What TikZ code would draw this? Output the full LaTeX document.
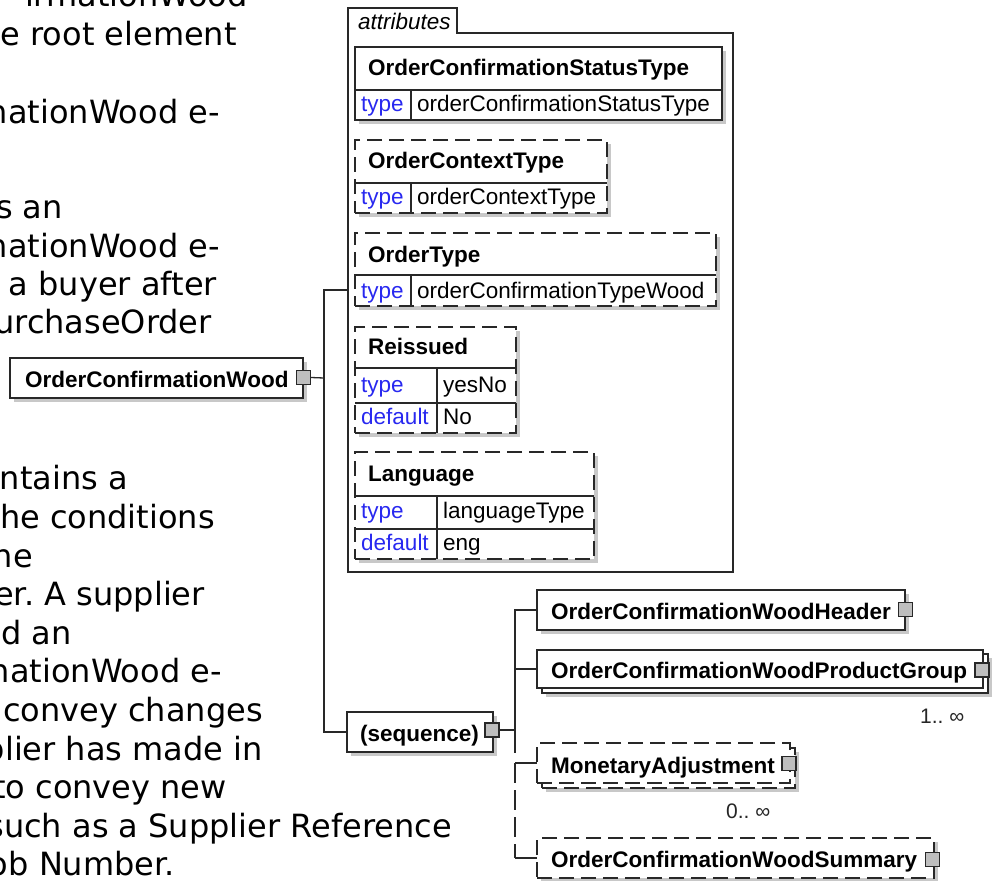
\documentclass[tikz,border=0pt]{standalone}
\usepackage{fontspec}
\setmainfont{Liberation Sans}
\newfontfamily\leftfont{DejaVu Sans}
\frenchspacing
\definecolor{lblue}{RGB}{40,40,240}
\definecolor{shd}{RGB}{200,200,200}
\definecolor{sqfill}{RGB}{190,190,190}
\definecolor{edge}{RGB}{40,40,40}
\tikzset{
  ebox/.style={draw=edge, fill=white, line width=1.3pt, inner sep=0pt, outer sep=0pt, anchor=north west},
  dbox/.style={ebox, dash pattern=on 15pt off 7pt},
  divline/.style={draw=edge, line width=1.1pt},
  conn/.style={draw=edge, line width=1.3pt},
  dconn/.style={conn, dash pattern=on 20pt off 7pt},
  sqn/.style={draw=edge, fill=sqfill, line width=1.1pt, minimum size=14pt, inner sep=0pt},
  ttl/.style={font=\fontsize{22.5}{27}\selectfont\bfseries, anchor=base west, inner sep=0pt},
  lbl/.style={font=\fontsize{22.5}{27}\selectfont, text=lblue, anchor=base west, inner sep=0pt},
  val/.style={font=\fontsize{22.5}{27}\selectfont, anchor=base west, inner sep=0pt},
  ital/.style={font=\fontsize{22.5}{27}\selectfont\itshape, anchor=base west, inner sep=0pt},
  mult/.style={font=\fontsize{21}{25}\selectfont, text=black!85, anchor=base west, inner sep=0pt},
  ltxt/.style={font=\leftfont\fontsize{32}{38}\selectfont, anchor=base east, inner sep=0pt},
}
\newcommand\shbox[6]{%
  \fill[shd] (#2+4,#3+4) rectangle (#4+4,#5+4);
  \node[#6, minimum width={#4-#2}, minimum height={#5-#3}] (#1) at (#2,#3) {};}
\begin{document}
\begin{tikzpicture}[x=1pt,y=-1pt]
\useasboundingbox (0,0) rectangle (992,880);
\clip (0,0) rectangle (992,880);
\fill[white] (0,0) rectangle (992,880);

% left annotation text (partly hidden)
\node[ltxt] (l1) at (248,7) {irmationWood};
\node[ltxt] (l2) at (237,46) {e root element};
\node[ltxt] (l3) at (220,123) {nationWood e-};
\node[ltxt] (l4) at (63,218) {s an};
\node[ltxt] (l5) at (220,257) {nationWood e-};
\node[ltxt] (l6) at (217,295) {a buyer after};
\node[ltxt] (l7) at (212,333) {urchaseOrder};
\node[ltxt] (l8) at (128,489) {ntains a};
\node[ltxt] (l9) at (215,528) {he conditions};
\node[ltxt] (l10) at (33,567) {he};
\node[ltxt] (l11) at (205,605) {er. A supplier};
\node[ltxt] (l12) at (72,644) {d an};
\node[ltxt] (l13) at (222,682) {nationWood e-};
\node[ltxt] (l14) at (263,721) {convey changes};
\node[ltxt] (l15) at (263,760) {plier has made in};
\node[ltxt] (l16) at (227,798) {to convey new};
\node[ltxt] (l17) at (452,837) {such as a Supplier Reference};
\node[ltxt] (l18) at (175,875) {ob Number.};

% coordinates for connector junctions
\coordinate (j1) at (324,378);
\coordinate (attrin) at (348,290);
\coordinate (v1) at (515,753);

% attributes container
\draw[conn, fill=white] (348,33) -- (348,8) -- (457,8) -- (457,33) -- (733,33) -- (733,572) -- (348,572) -- cycle;
\node[ital] (attrt) at (358,30) {attributes};

% OrderConfirmationStatusType
\shbox{st}{355}{47}{722}{120}{ebox}
\draw[divline] (355,90) -- (722,90) (411,90) -- (411,120);
\node[ttl] (stt) at (368,76) {OrderConfirmationStatusType};
\node[lbl] (stl) at (361,112) {type};
\node[val] (stv) at (417,112) {orderConfirmationStatusType};

% OrderContextType
\shbox{ct}{355}{140}{607}{213}{dbox}
\draw[divline] (355,183) -- (607,183) (411,183) -- (411,213);
\node[ttl] (ctt) at (368,168) {OrderContextType};
\node[lbl] (ctl) at (361,204) {type};
\node[val] (ctv) at (417,204) {orderContextType};

% OrderType
\shbox{ot}{355}{233}{716}{306}{dbox}
\draw[divline] (355,275) -- (716,275) (411,275) -- (411,306);
\node[ttl] (ott) at (368,262) {OrderType};
\node[lbl] (otl) at (361,298) {type};
\node[val] (otv) at (417,298) {orderConfirmationTypeWood};

% Reissued
\shbox{re}{355}{327}{516}{433}{dbox}
\draw[divline] (355,368) -- (516,368) (355,403) -- (516,403) (437,368) -- (437,433);
\node[ttl] (ret) at (368,354) {Reissued};
\node[lbl] (rel1) at (361,392) {type};
\node[val] (rev1) at (443,392) {yesNo};
\node[lbl] (rel2) at (361,424) {default};
\node[val] (rev2) at (443,424) {No};

% Language
\shbox{la}{355}{452}{594}{559}{dbox}
\draw[divline] (355,496) -- (594,496) (355,529) -- (594,529) (437,496) -- (437,559);
\node[ttl] (lat) at (368,481) {Language};
\node[lbl] (lal1) at (361,518) {type};
\node[val] (lav1) at (443,518) {languageType};
\node[lbl] (lal2) at (361,550) {default};
\node[val] (lav2) at (443,550) {eng};

% root element
\shbox{root}{10}{358}{303}{398}{ebox}
\node[ttl] (roott) at (25,387) {OrderConfirmationWood};
\node[sqn] (rootsq) at (303.5,377.5) {};

% sequence
\shbox{seq}{347}{712}{493}{752}{ebox}
\node[ttl] (seqt) at (360,741) {(sequence)};
\node[sqn] (seqsq) at (492,730) {};

% children
\shbox{hdr}{537}{590}{905}{630}{ebox}
\node[ttl] (hdrt) at (551,619) {OrderConfirmationWoodHeader};
\node[sqn] (hdrsq) at (905.5,609.5) {};

\shbox{pgb}{542}{654}{988}{693}{ebox}
\node[ebox, minimum width=446, minimum height=38] (pg) at (537,650) {};
\node[ttl] (pgt) at (551,678) {OrderConfirmationWoodProductGroup};
\node[sqn] (pgsq) at (982,670) {};
\node[mult] (pgm) at (920,723) {1.. ∞};

\shbox{monb}{542}{748}{795}{788}{dbox}
\node[dbox, minimum width=253, minimum height=40] (mon) at (537,743) {};
\node[ttl] (mont) at (551,773) {MonetaryAdjustment};
\node[sqn] (monsq) at (789,763.5) {};
\node[mult] (monm) at (726,818) {0.. ∞};

\shbox{sum}{537}{838}{934}{878}{dbox}
\node[ttl] (sumt) at (551,867) {OrderConfirmationWoodSummary};
\node[sqn] (sumsq) at (932.5,859.5) {};

% connectors
\draw[conn] (rootsq.east) -- (j1);
\draw[conn] (attrin) -| (j1) |- (seq.west);
\draw[conn] (seqsq.east) -- (seqsq.east -| v1);
\draw[conn] (hdr.west) -| (v1);
\draw[conn] (pg.west) -- (pg.west -| v1);
\draw[conn] (mon.west) -- (mon.west -| v1);
\draw[dconn] (mon.west -| v1) -- (sum.west -| v1);
\draw[conn] (sum.west) -- (sum.west -| v1);
\end{tikzpicture}
\end{document}
